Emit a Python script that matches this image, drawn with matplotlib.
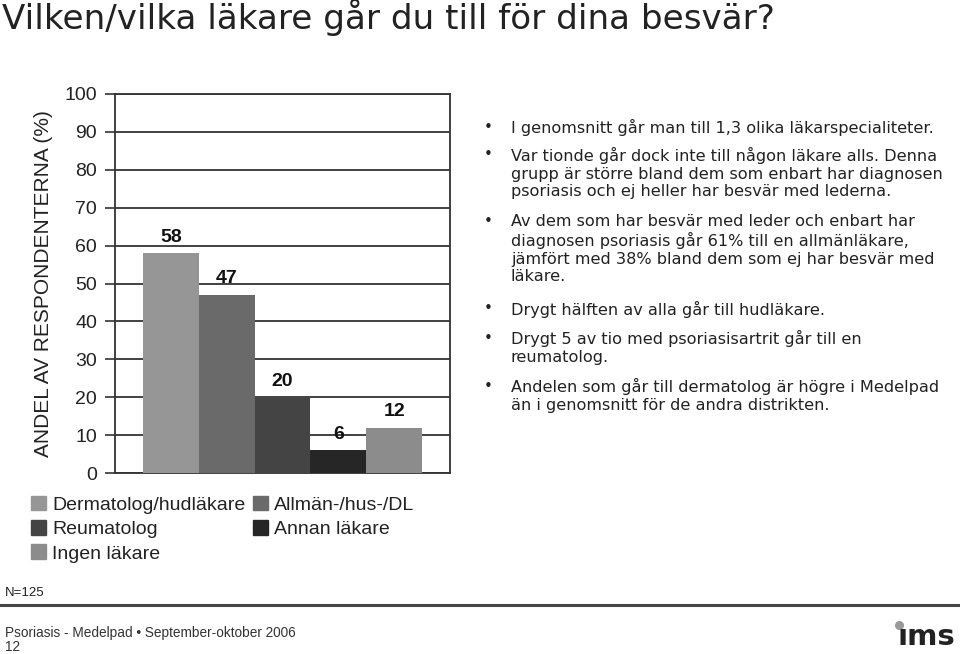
import matplotlib.pyplot as plt
from matplotlib.patches import Patch

plt.rcParams['font.family'] = ['Liberation Sans', 'DejaVu Sans']

categories = ['Dermatolog/hudläkare', 'Allmän-/hus-/DL', 'Reumatolog',
              'Annan läkare', 'Ingen läkare']
values = [58, 47, 20, 6, 12]
colors = ['#969696', '#6a6a6a', '#444444', '#262626', '#8c8c8c']

yticks = [0, 10, 20, 30, 40, 50, 60, 70, 80, 90, 100]

bullets = [
    "I genomsnitt går man till 1,3 olika läkarspecialiteter.",
    "Var tionde går dock inte till någon läkare alls. Denna\n"
    "grupp är större bland dem som enbart har diagnosen\n"
    "psoriasis och ej heller har besvär med lederna.",
    "Av dem som har besvär med leder och enbart har\n"
    "diagnosen psoriasis går 61% till en allmänläkare,\n"
    "jämfört med 38% bland dem som ej har besvär med\n"
    "läkare.",
    "Drygt hälften av alla går till hudläkare.",
    "Drygt 5 av tio med psoriasisartrit går till en\n"
    "reumatolog.",
    "Andelen som går till dermatolog är högre i Medelpad\n"
    "än i genomsnitt för de andra distrikten.",
]
bullet_y = [127, 155, 222, 309, 338, 386]

fig = plt.figure(figsize=(9.6, 6.54), dpi=100)
W, H = 960, 654

ax = fig.add_axes([115 / W, 1 - 473 / H, 335 / W, 379 / H])
x = list(range(1, len(values) + 1))
bars = ax.bar(x, values, width=1.0, color=colors, zorder=3)
for xi, v in zip(x, values):
    ax.annotate(str(v), (xi, v), xytext=(0, 11.5), textcoords='offset points',
                ha='center', va='center', fontsize=14, fontweight='bold',
                color='#111111')

ax.set_xlim(0, 6)
ax.set_ylim(0, 100)
ax.set_yticks(yticks)
ax.set_xticks([])
ax.tick_params(axis='y', labelsize=14, length=7, width=1.2, color='#333333',
               labelcolor='#222222', pad=6)
ax.yaxis.grid(True, color='#333333', linewidth=1.3, zorder=0)
ax.set_axisbelow(True)
for s in ax.spines.values():
    s.set_color('#333333')
    s.set_linewidth(1.3)
ax.set_ylabel('ANDEL AV RESPONDENTERNA (%)', fontsize=15, color='#222222',
              labelpad=8)

# legend in row-major order
handles = [Patch(color=c) for c in colors]
order = [0, 2, 4, 1, 3]
fig.legend([handles[i] for i in order], [categories[i] for i in order],
           loc='upper left', bbox_to_anchor=(13 / W, 1 - 478 / H), ncol=2,
           frameon=False, fontsize=14, handlelength=0.8, handleheight=0.8,
           handletextpad=0.3, columnspacing=0.4, labelspacing=0.32,
           labelcolor='#222222')

fig.text(2 / W, 1 - 17 / H, 'Vilken/vilka läkare går du till för dina besvär?',
         fontsize=24.6, color='#222222', va='center', ha='left',
         family='DejaVu Sans')

for y, txt in zip(bullet_y, bullets):
    fig.text(484 / W, 1 - y / H, '•', fontsize=11, color='#222222',
             va='center', ha='left', family='DejaVu Sans')
    fig.text(511 / W, 1 - (y - 8) / H, txt, fontsize=11.6, color='#222222',
             va='top', ha='left', linespacing=1.22, family='DejaVu Sans')

fig.text(5 / W, 1 - 593 / H, 'N=125', fontsize=9.5, color='#222222',
         va='center', ha='left')
fig.add_artist(plt.Line2D([0, 1], [1 - 605 / H, 1 - 605 / H],
                          transform=fig.transFigure, color='#444444',
                          linewidth=2.2))
fig.text(5 / W, 1 - 633 / H, 'Psoriasis - Medelpad • September-oktober 2006',
         fontsize=9.8, color='#333333', va='center', ha='left')
fig.text(5 / W, 1 - 647 / H, '12', fontsize=9.8, color='#333333',
         va='center', ha='left')

# ims logo
fig.text(955 / W, 1 - 651 / H, 'ıms', fontsize=21, fontweight='bold',
         color='#222222', va='bottom', ha='right', family='DejaVu Sans')
fig.add_artist(plt.Line2D([899 / W], [1 - 625 / H], marker='o', markersize=5.5,
                          color='#999999', transform=fig.transFigure))

fig.savefig('out.png', dpi=100)
